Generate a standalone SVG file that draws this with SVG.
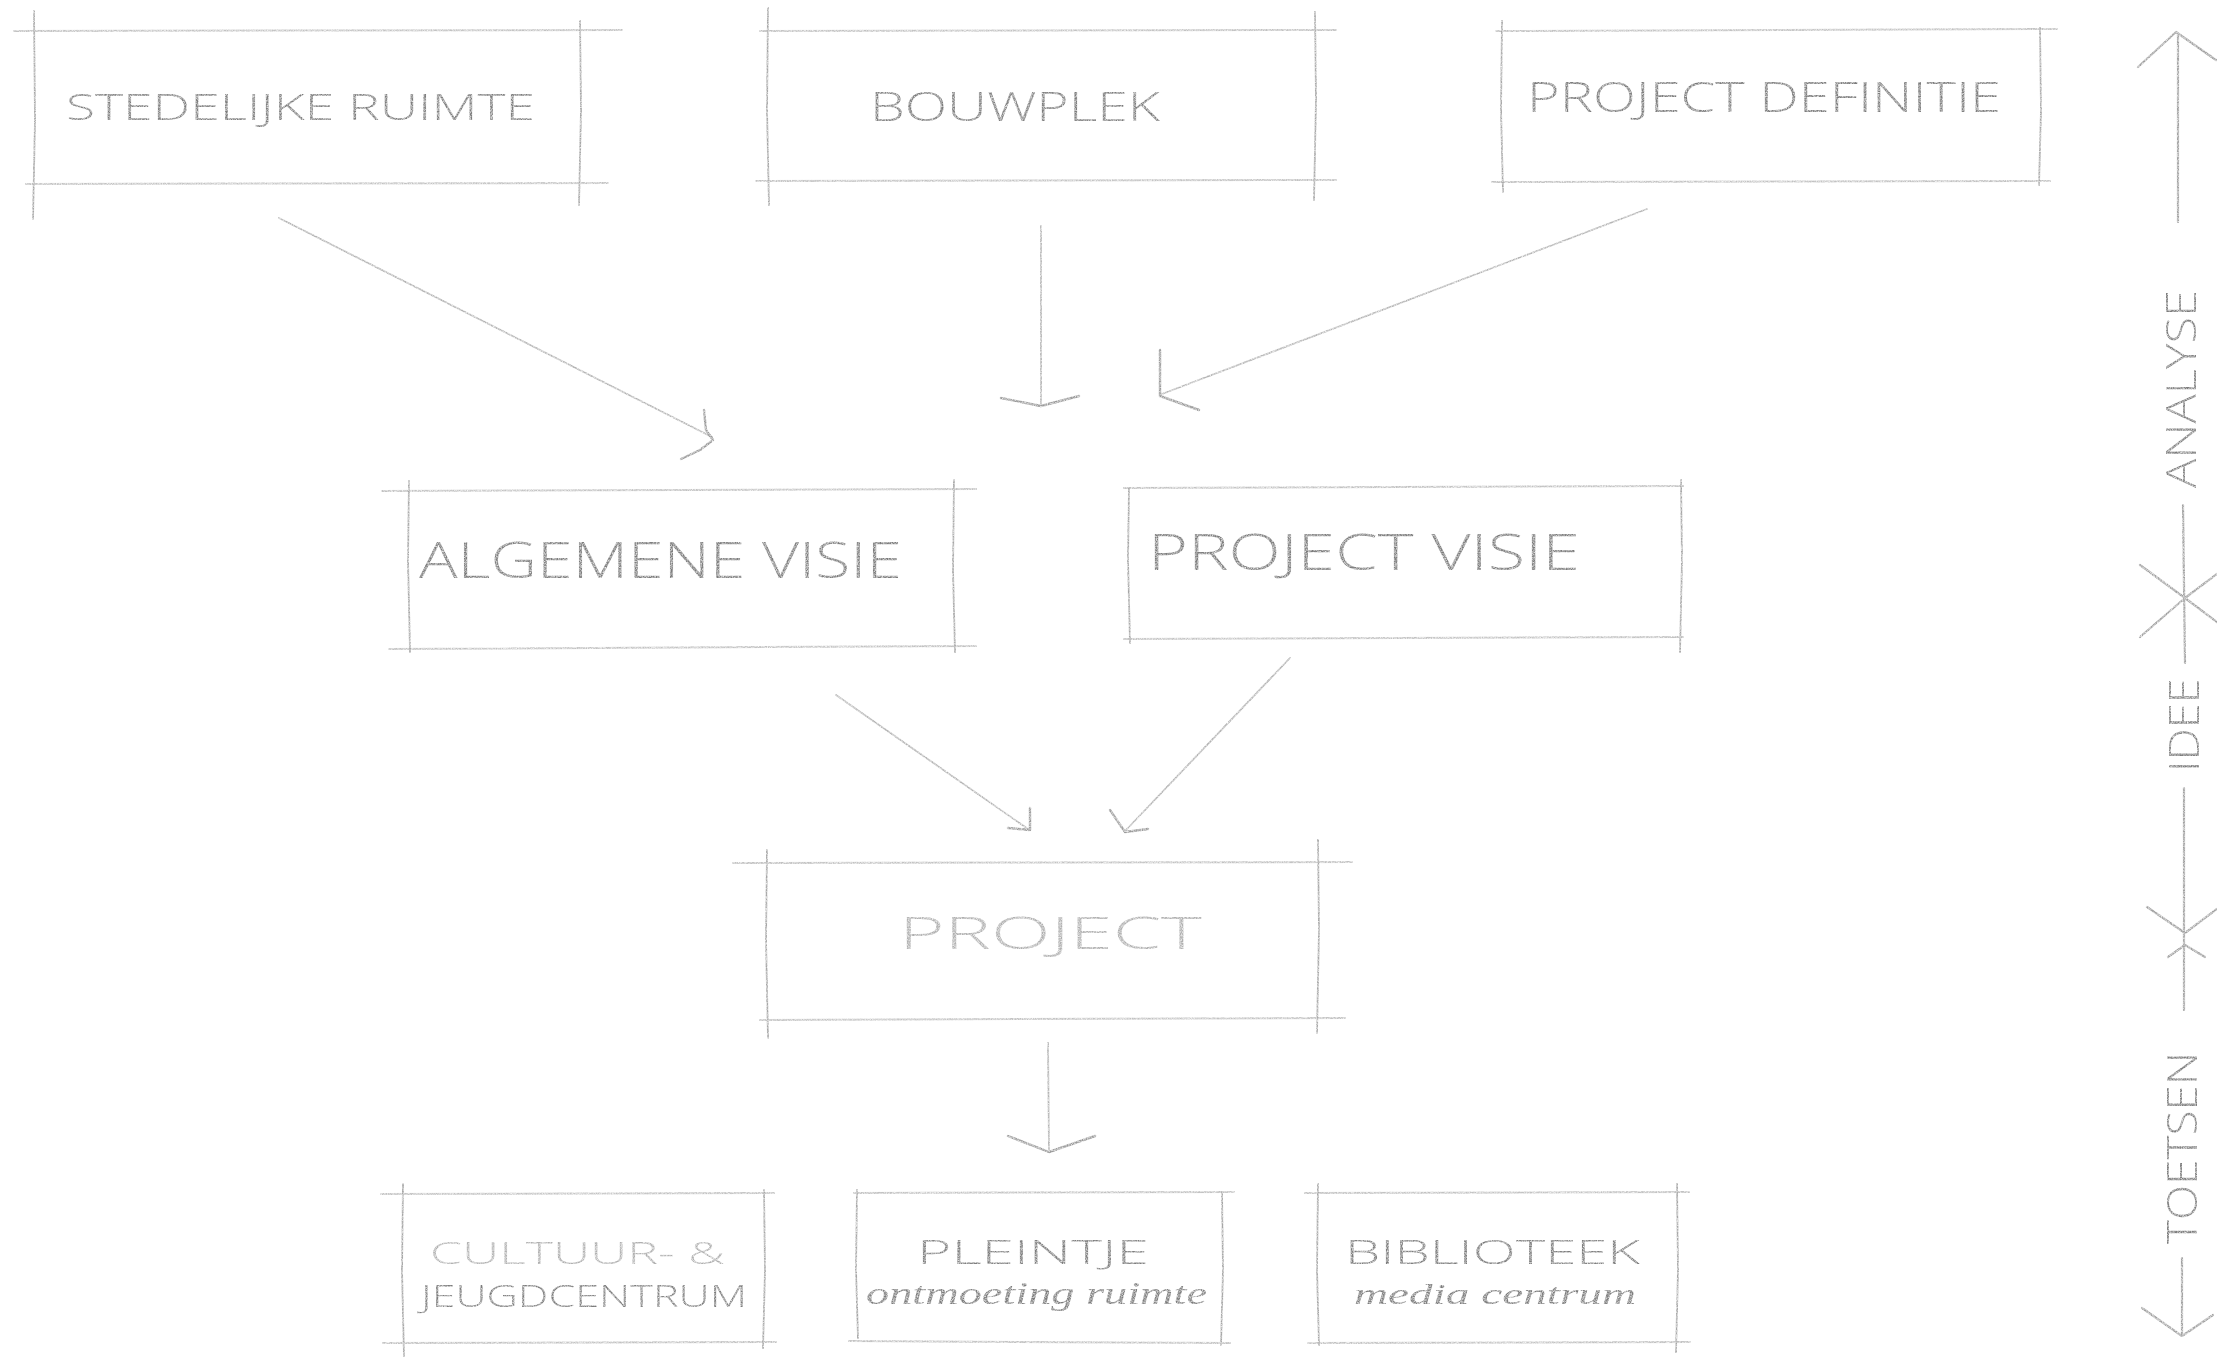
<svg xmlns="http://www.w3.org/2000/svg" width="2217" height="1357" viewBox="0 0 2217 1357">
<defs>
<style>
.bg{fill:#ffffff}
.h{stroke:#c2c2c2;stroke-width:2;fill:none;stroke-linecap:round}
.v{stroke:#a6a6a6;stroke-width:1.8;fill:none;stroke-linecap:round}
.c{stroke:#b3b3b3;stroke-width:1.8;fill:none;stroke-linecap:round;stroke-linejoin:round}
.ah{stroke:#9a9a9a;stroke-width:2.4;fill:none;stroke-linecap:round;stroke-linejoin:round}
.t{font-family:"Open Sans","Lato","Liberation Sans",sans-serif;font-weight:300;fill:#7c7c7c}
.tf{font-family:"Open Sans","Lato","Liberation Sans",sans-serif;font-weight:300;fill:#b0b0b0}
.s{font-family:"Liberation Serif","DejaVu Serif",serif;font-style:italic;fill:#7c7c7c}
.ax{stroke:#a0a0a0;stroke-width:2.2;fill:none;stroke-linecap:round;stroke-linejoin:round}
</style>
<filter id="pencil" x="-5%" y="-5%" width="110%" height="110%">
<feTurbulence type="fractalNoise" baseFrequency="0.8" numOctaves="2" seed="3" result="n"/>
<feColorMatrix in="n" type="matrix" values="0 0 0 0 0  0 0 0 0 0  0 0 0 0 0  0 0 0 -1.6 1.5" result="m"/>
<feComposite in="SourceGraphic" in2="m" operator="in"/>
</filter>
</defs>
<rect class="bg" x="0" y="0" width="2217" height="1357"/>

<g filter="url(#pencil)">
<g id="node-stedelijke-ruimte">
<path class="h" d="M14 31 L622 30"/>
<path class="h" d="M26 184 L608 183"/>
<path class="v" d="M34 11 L35 120 L33 219"/>
<path class="v" d="M580 21 L581 110 L579 205"/>
<text class="t" x="66" y="120" font-size="36" textLength="469" lengthAdjust="spacingAndGlyphs">STEDELIJKE RUIMTE</text>
</g>

<g id="node-bouwplek">
<path class="h" d="M760 31 L1336 30"/>
<path class="h" d="M756 181 L1336 180"/>
<path class="v" d="M768 8 L767 110 L769 205"/>
<path class="v" d="M1315 12 L1316 100 L1314 200"/>
<text class="t" x="870" y="121" font-size="40" textLength="290" lengthAdjust="spacingAndGlyphs">BOUWPLEK</text>
</g>

<g id="node-project-definitie">
<path class="h" d="M1496 31 L2057 29"/>
<path class="h" d="M1492 182 L2050 181"/>
<path class="v" d="M1502 21 L1501 110 L1503 192"/>
<path class="v" d="M2040 28 L2041 110 L2039 185"/>
<text class="t" x="1527" y="112" font-size="42" textLength="474" lengthAdjust="spacingAndGlyphs">PROJECT DEFINITIE</text>
</g>

<g id="node-algemene-visie">
<path class="h" d="M382 491 L976 489"/>
<path class="h" d="M389 649 L976 646"/>
<path class="v" d="M409 481 L408 560 L410 652"/>
<path class="v" d="M954 480 L953 570 L955 652"/>
<text class="t" x="419" y="578" font-size="50" textLength="483" lengthAdjust="spacingAndGlyphs">ALGEMENE VISIE</text>
</g>

<g id="node-project-visie">
<path class="h" d="M1124 488 L1683 486"/>
<path class="h" d="M1124 639 L1683 637"/>
<path class="v" d="M1129 488 L1128 560 L1130 643"/>
<path class="v" d="M1681 480 L1682 560 L1680 652"/>
<text class="t" x="1148" y="570" font-size="50" textLength="432" lengthAdjust="spacingAndGlyphs">PROJECT VISIE</text>
</g>

<g id="node-project">
<path class="h" d="M733 863 L1352 862"/>
<path class="h" d="M760 1020 L1345 1018"/>
<path class="v" d="M767 850 L766 940 L768 1038"/>
<path class="v" d="M1318 840 L1319 930 L1317 1033"/>
<text class="tf" x="899" y="949" font-size="44" textLength="303" lengthAdjust="spacingAndGlyphs">PROJECT</text>
</g>

<g id="node-cultuur">
<path class="h" d="M381 1194 L774 1193"/>
<path class="h" d="M383 1343 L776 1342"/>
<path class="v" d="M403 1184 L402 1270 L404 1357"/>
<path class="v" d="M764 1190 L765 1270 L763 1348"/>
<text class="tf" x="430" y="1264" font-size="32" textLength="295" lengthAdjust="spacingAndGlyphs">CULTUUR- &amp;</text>
<text class="t" x="421" y="1307" font-size="32" textLength="326" lengthAdjust="spacingAndGlyphs">JEUGDCENTRUM</text>
</g>

<g id="node-pleintje">
<path class="h" d="M854 1193 L1234 1192"/>
<path class="h" d="M849 1341 L1230 1343"/>
<path class="v" d="M857 1190 L856 1270 L858 1338"/>
<path class="v" d="M1222 1192 L1223 1270 L1221 1345"/>
<text class="t" x="917" y="1264" font-size="33" textLength="232" lengthAdjust="spacingAndGlyphs">PLEINTJE</text>
<text class="s" x="866" y="1304" font-size="32" textLength="341" lengthAdjust="spacingAndGlyphs">ontmoeting ruimte</text>
</g>

<g id="node-bibliotheek">
<path class="h" d="M1305 1193 L1689 1192"/>
<path class="h" d="M1308 1343 L1690 1342"/>
<path class="v" d="M1318 1184 L1317 1270 L1319 1345"/>
<path class="v" d="M1677 1184 L1678 1270 L1676 1352"/>
<text class="t" x="1345" y="1264" font-size="33" textLength="295" lengthAdjust="spacingAndGlyphs">BIBLIOTEEK</text>
<text class="s" x="1354" y="1304" font-size="30" textLength="282" lengthAdjust="spacingAndGlyphs">media centrum</text>
</g>

<g id="connectors">
<path class="c" d="M279 218 L712 437"/>
<path class="ah" d="M704 410 L706 430 L713 440 L700 450 L681 459"/>
<path class="c" d="M1041 226 L1041 404"/>
<path class="ah" d="M1001 398 L1041 406 L1079 396"/>
<path class="c" d="M1647 209 L1162 394"/>
<path class="ah" d="M1160 350 L1160 396 L1199 410"/>
<path class="c" d="M836 695 L1028 829"/>
<path class="ah" d="M1030 808 L1030 830 L1008 828"/>
<path class="c" d="M1290 658 L1126 830"/>
<path class="ah" d="M1110 810 L1125 832 L1148 829"/>
<path class="c" d="M1048 1043 L1049 1150"/>
<path class="ah" d="M1008 1136 L1049 1152 L1095 1136"/>
</g>

<g id="timeline">
<path class="ax" d="M2178 34 L2178 222"/>
<path class="ax" d="M2138 67 L2176 32 L2216 60"/>
<text class="t" transform="translate(2196 389) rotate(-90)" x="-99" y="0" font-size="42" textLength="198" lengthAdjust="spacingAndGlyphs">ANALYSE</text>
<path class="ax" d="M2183 505 L2185 663"/>
<path class="ax" d="M2140 565 L2185 598 L2217 574"/>
<path class="ax" d="M2140 637 L2185 598 L2217 622"/>
<text class="t" transform="translate(2199 725) rotate(-90)" x="-47" y="0" font-size="42" textLength="94" lengthAdjust="spacingAndGlyphs">IDEE</text>
<path class="ax" d="M2184 788 L2184 1010"/>
<path class="ax" d="M2147 907 L2185 933 L2217 909"/>
<path class="ax" d="M2168 957 L2185 945 L2205 957"/>
<text class="t" transform="translate(2197 1148) rotate(-90)" x="-96" y="0" font-size="42" textLength="192" lengthAdjust="spacingAndGlyphs">TOETSEN</text>
<path class="ax" d="M2182 1258 L2182 1334"/>
<path class="ax" d="M2142 1308 L2182 1336 L2213 1315"/>
</g>
</g>
</svg>
